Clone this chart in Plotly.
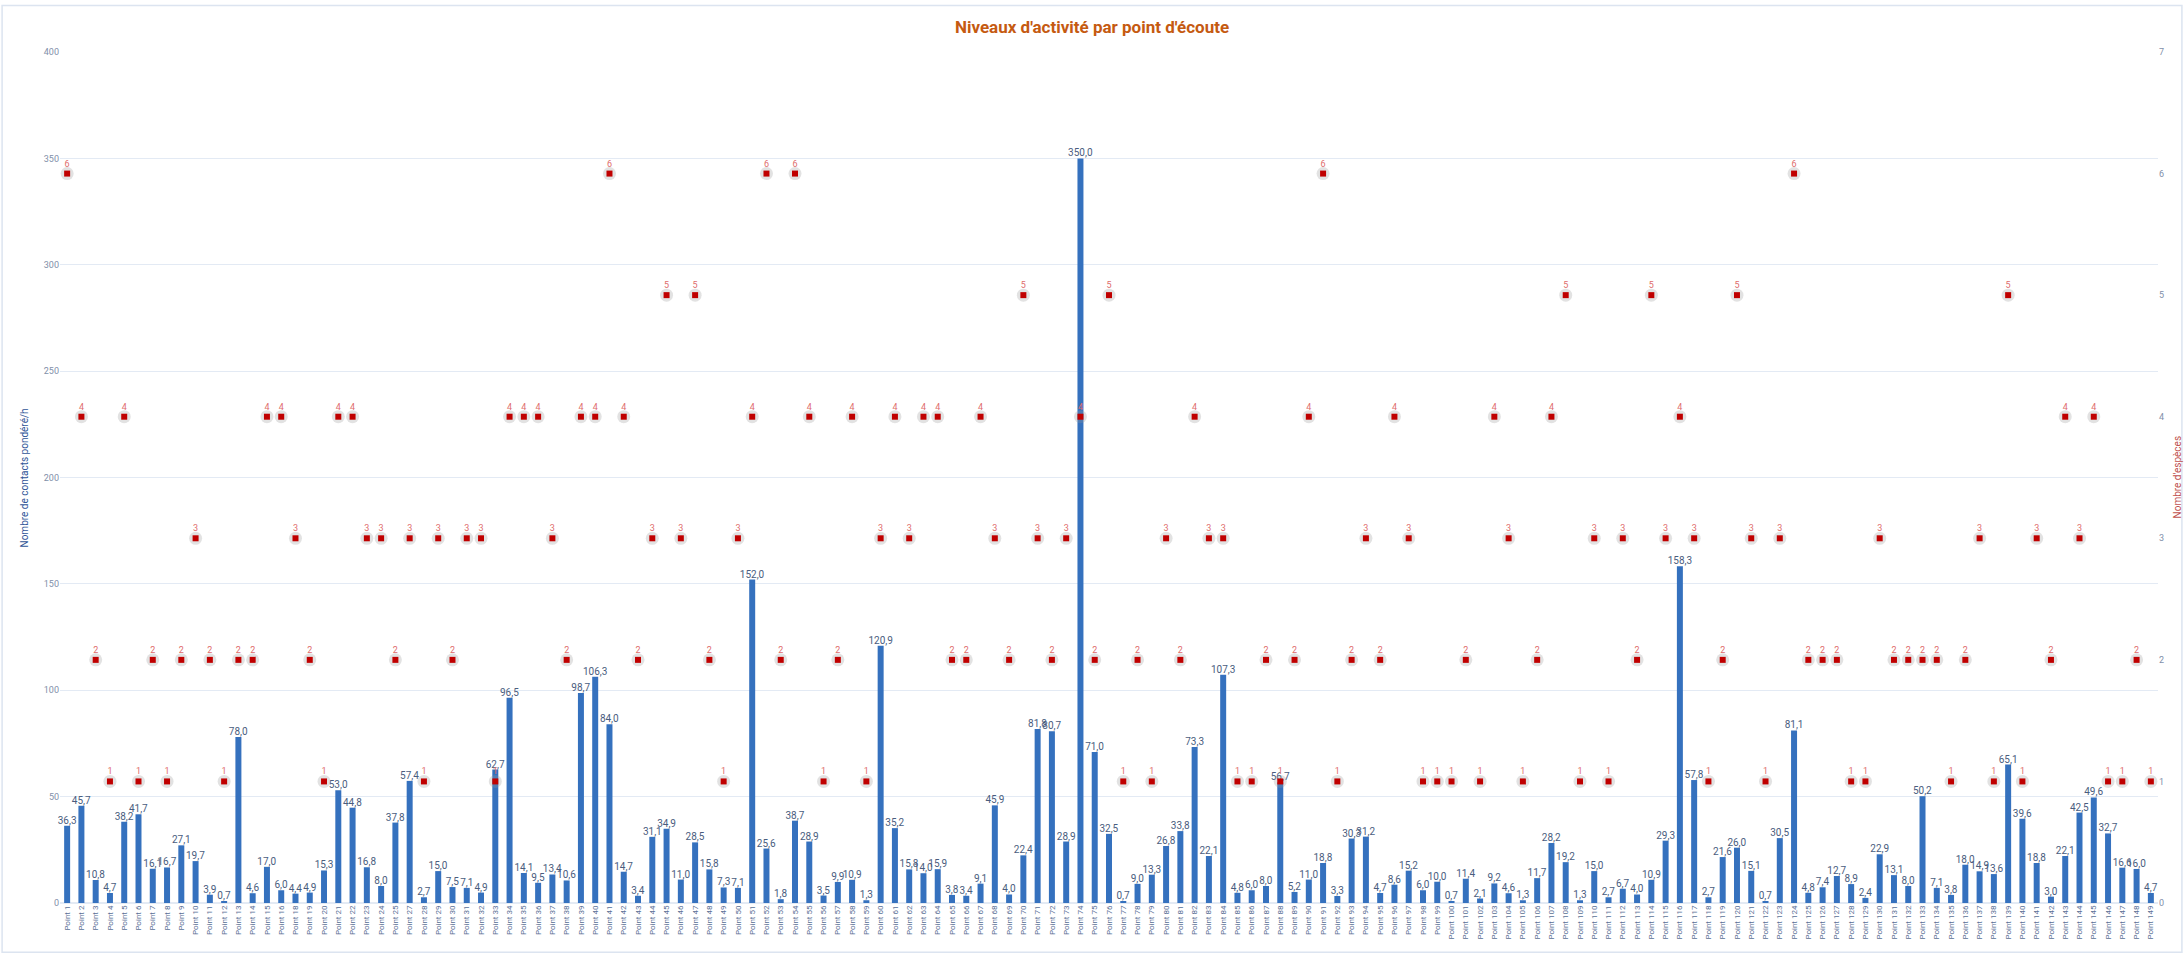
import plotly.graph_objects as go

# Point numbers used as category labels (17 and 26 are not part of the survey)
point_numbers = list(range(1, 17)) + list(range(18, 26)) + list(range(27, 150))
points = [f"Point {n}" for n in point_numbers]

# Weighted contacts per hour for each listening point
contacts = [
    36.3, 45.7, 10.8, 4.7, 38.2, 41.7, 16.1, 16.7, 27.1, 19.7,
    3.9, 0.7, 78.0, 4.6, 17.0, 6.0, 4.4, 4.9, 15.3, 53.0,
    44.8, 16.8, 8.0, 37.8, 57.4, 2.7, 15.0, 7.5, 7.1, 4.9,
    62.7, 96.5, 14.1, 9.5, 13.4, 10.6, 98.7, 106.3, 84.0, 14.7,
    3.4, 31.1, 34.9, 11.0, 28.5, 15.8, 7.3, 7.1, 152.0, 25.6,
    1.8, 38.7, 28.9, 3.5, 9.9, 10.9, 1.3, 120.9, 35.2, 15.8,
    14.0, 15.9, 3.8, 3.4, 9.1, 45.9, 4.0, 22.4, 81.8, 80.7,
    28.9, 350.0, 71.0, 32.5, 0.7, 9.0, 13.3, 26.8, 33.8, 73.3,
    22.1, 107.3, 4.8, 6.0, 8.0, 56.7, 5.2, 11.0, 18.8, 3.3,
    30.3, 31.2, 4.7, 8.6, 15.2, 6.0, 10.0, 0.7, 11.4, 2.1,
    9.2, 4.6, 1.3, 11.7, 28.2, 19.2, 1.3, 15.0, 2.7, 6.7,
    4.0, 10.9, 29.3, 158.3, 57.8, 2.7, 21.6, 26.0, 15.1, 0.7,
    30.5, 81.1, 4.8, 7.4, 12.7, 8.9, 2.4, 22.9, 13.1, 8.0,
    50.2, 7.1, 3.8, 18.0, 14.9, 13.6, 65.1, 39.6, 18.8, 3.0,
    22.1, 42.5, 49.6, 32.7, 16.6, 16.0, 4.7,
]

# Number of species recorded at each listening point
species = [
    6, 4, 2, 1, 4, 1, 2, 1, 2, 3,
    2, 1, 2, 2, 4, 4, 3, 2, 1, 4,
    4, 3, 3, 2, 3, 1, 3, 2, 3, 3,
    1, 4, 4, 4, 3, 2, 4, 4, 6, 4,
    2, 3, 5, 3, 5, 2, 1, 3, 4, 6,
    2, 6, 4, 1, 2, 4, 1, 3, 4, 3,
    4, 4, 2, 2, 4, 3, 2, 5, 3, 2,
    3, 4, 2, 5, 1, 2, 1, 3, 2, 4,
    3, 3, 1, 1, 2, 1, 2, 4, 6, 1,
    2, 3, 2, 4, 3, 1, 1, 1, 2, 1,
    4, 3, 1, 2, 4, 5, 1, 3, 1, 3,
    2, 5, 3, 4, 3, 1, 2, 5, 3, 1,
    3, 6, 2, 2, 2, 1, 1, 3, 2, 2,
    2, 2, 1, 2, 3, 1, 5, 1, 3, 2,
    4, 3, 4, 1, 1, 2, 1,
]

left_ticks = [0, 50, 100, 150, 200, 250, 300, 350, 400]
right_ticks = [0, 1, 2, 3, 4, 5, 6, 7]

FONT = "Liberation Sans Narrow, Roboto, Arial Narrow, sans-serif"
TICK_COLOR = "#7F8FA9"
BAR_COLOR = "#3571BE"
RED = "#C00000"

fig = go.Figure()

fig.add_trace(go.Bar(
    x=points, y=contacts,
    name="Nombre de contacts pondéré/h",
    marker=dict(color=BAR_COLOR, line=dict(width=0)),
    width=0.42,
    texttemplate="%{y:.1f}",
    textposition="outside",
    constraintext="none",
    cliponaxis=False,
    textfont=dict(family=FONT, size=10, color="#4A5D7E"),
    yaxis="y",
))

# soft grey halo behind each species marker
fig.add_trace(go.Scatter(
    x=points, y=species,
    mode="markers",
    marker=dict(size=13, color="rgba(150,150,150,0.28)", line=dict(width=0)),
    hoverinfo="skip", showlegend=False,
    yaxis="y2",
))

fig.add_trace(go.Scatter(
    x=points, y=species,
    name="Nombre d'espèces",
    mode="markers+text",
    text=[str(v) for v in species],
    textposition="top center",
    textfont=dict(family=FONT, size=9, color="#E06C6C"),
    marker=dict(size=6, symbol="square", color=RED, line=dict(width=0)),
    cliponaxis=False,
    yaxis="y2",
))

fig.update_layout(
    width=2184, height=954, autosize=False,
    margin=dict(l=60, r=26, t=52, b=51, autoexpand=False),
    paper_bgcolor="white", plot_bgcolor="white",
    separators=", ",
    showlegend=False,
    bargap=0.6,
    font=dict(family=FONT, size=9, color=TICK_COLOR),
    title=dict(
        text="<b>Niveaux d'activité par point d'écoute</b>",
        x=0.5, xanchor="center", y=1 - 27 / 954, yanchor="middle",
        font=dict(family=FONT, size=17, color="#C55A11"),
    ),
    xaxis=dict(
        type="category",
        categoryorder="array", categoryarray=points,
        range=[-0.5, len(points) - 0.5],
        tickangle=-90,
        tickfont=dict(family=FONT, size=8, color="#5A6F95"),
        showgrid=False, showline=False, ticks="",
        automargin=False,
    ),
    yaxis=dict(
        range=[0, 400], tickvals=left_ticks,
        showgrid=True, gridcolor="#E3EAF4", gridwidth=1,
        zeroline=True, zerolinecolor="#E3EAF4",
        showline=False, ticks="",
        tickfont=dict(family=FONT, size=9, color=TICK_COLOR),
        automargin=False,
    ),
    yaxis2=dict(
        range=[0, 7], tickvals=right_ticks,
        overlaying="y", side="right",
        showgrid=False, zeroline=False, showline=False, ticks="",
        tickfont=dict(family=FONT, size=9, color=TICK_COLOR),
        automargin=False,
    ),
    annotations=[
        dict(text="Nombre de contacts pondéré/h", textangle=-90,
             xref="paper", yref="paper", x=-0.0167, y=0.5,
             xanchor="center", yanchor="middle", showarrow=False,
             font=dict(family=FONT, size=10, color="#2F5597")),
        dict(text="Nombre d'espèces", textangle=-90,
             xref="paper", yref="paper", x=1.0095, y=0.5,
             xanchor="center", yanchor="middle", showarrow=False,
             font=dict(family=FONT, size=10, color="#C0504D")),
    ],
    shapes=[
        dict(type="rect", xref="paper", yref="paper",
             x0=-0.0276, x1=1.0114, y0=-0.058, y1=1.0547,
             line=dict(color="#DCE4F0", width=1.5), fillcolor="rgba(0,0,0,0)",
             layer="below"),
    ],
)

fig.write_html("out.html")
